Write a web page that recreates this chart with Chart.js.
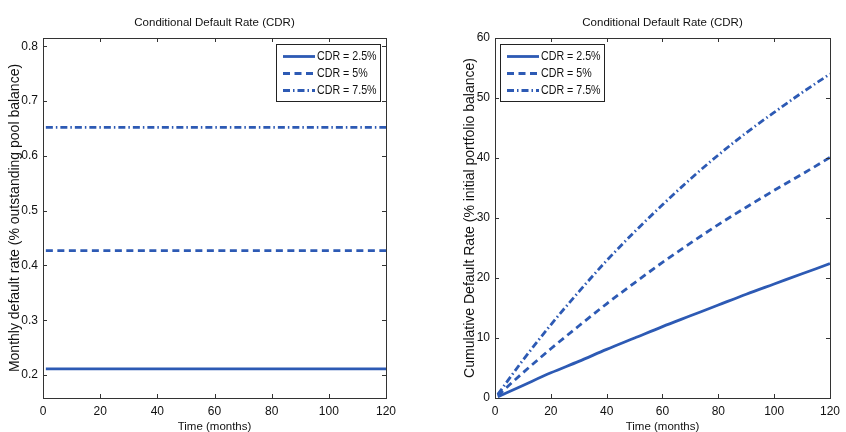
<!DOCTYPE html>
<html>
<head>
<meta charset="utf-8">
<script src="https://cdn.jsdelivr.net/npm/chart.js@4"></script>
<style>
  html, body { margin: 0; padding: 0; background: #fff; overflow: hidden; }
  .panel { position: absolute; top: 0; width: 423px; height: 440px; }
</style>
</head>
<body>
<div class="panel" style="left:0"><canvas id="monthly" width="423" height="440"></canvas></div>
<div class="panel" style="left:423px"><canvas id="cumulative" width="423" height="440"></canvas></div>
<script>
/* global Chart */

// --- data ---
const seriesLabels = ['CDR = 2.5%', 'CDR = 5%', 'CDR = 7.5%']

const flatMonths = [1, 120]
const monthly25 = [0.211, 0.211]
const monthly5 = [0.427, 0.427]
const monthly75 = [0.652, 0.652]

const months = [1, 10, 20, 30, 40, 50, 60, 70, 80, 90, 100, 110, 120]
const cumulative25 = [0.2, 2.1, 4.2, 6.1, 8.1, 10.0, 11.9, 13.7, 15.5, 17.3, 19.0, 20.7, 22.4]
const cumulative5 = [0.4, 4.2, 8.2, 12.0, 15.7, 19.2, 22.6, 25.8, 28.9, 31.8, 34.6, 37.3, 40.1]
const cumulative75 = [0.6, 6.3, 12.2, 17.7, 22.9, 27.7, 32.2, 36.5, 40.5, 44.2, 47.6, 50.9, 54.0]

const xTicks = [0, 20, 40, 60, 80, 100, 120]
const monthlyTicks = [0.2, 0.3, 0.4, 0.5, 0.6, 0.7, 0.8]
const cumulativeTicks = [0, 10, 20, 30, 40, 50, 60]

const BLUE = '#2d5ab4'
const FONT = "'Liberation Sans', Arial, sans-serif"
const dashes = [[], [7, 4.5], [7, 3, 1.5, 3]]

Chart.defaults.font.family = FONT
Chart.defaults.color = '#111'

const toPoints = (xs, ys) => xs.map((x, i) => ({ x: x, y: ys[i] }))

// MATLAB style box, inward ticks and a legend inside the axes
const matlabFrame = {
  id: 'matlabFrame',
  afterDraw (chart, args, opts) {
    const ctx = chart.ctx
    const a = chart.chartArea
    const xs = chart.scales.x
    const ys = chart.scales.y
    ctx.save()
    ctx.strokeStyle = '#333'
    ctx.lineWidth = 1
    ctx.strokeRect(Math.round(a.left) + 0.5, Math.round(a.top) + 0.5,
      Math.round(a.right - a.left), Math.round(a.bottom - a.top))
    ctx.beginPath()
    xs.ticks.forEach(t => {
      const px = Math.round(xs.getPixelForValue(t.value)) + 0.5
      ctx.moveTo(px, a.bottom); ctx.lineTo(px, a.bottom - 4)
      ctx.moveTo(px, a.top); ctx.lineTo(px, a.top + 4)
    })
    ys.ticks.forEach(t => {
      const py = Math.round(ys.getPixelForValue(t.value)) + 0.5
      ctx.moveTo(a.left, py); ctx.lineTo(a.left + 4, py)
      ctx.moveTo(a.right, py); ctx.lineTo(a.right - 4, py)
    })
    ctx.stroke()

    // legend box
    const w = 104
    const h = 57
    const bx = opts.side === 'right' ? Math.round(a.right) - 6 - w : Math.round(a.left) + 5
    const by = Math.round(a.top) + 6
    ctx.fillStyle = '#fff'
    ctx.fillRect(bx, by, w, h)
    ctx.strokeStyle = '#222'
    ctx.strokeRect(bx + 0.5, by + 0.5, w, h)
    chart.data.datasets.forEach((ds, i) => {
      const y = by + 12.5 + i * 17
      ctx.strokeStyle = ds.borderColor
      ctx.lineWidth = ds.borderWidth
      ctx.setLineDash(ds.borderDash || [])
      ctx.beginPath()
      ctx.moveTo(bx + 7, y); ctx.lineTo(bx + 39, y)
      ctx.stroke()
      ctx.setLineDash([])
      // condensed text, like the narrow Helvetica of the original
      ctx.save()
      ctx.translate(bx + 41, y)
      ctx.scale(0.82, 1)
      ctx.font = '13px ' + FONT
      ctx.textBaseline = 'middle'
      ctx.textAlign = 'left'
      ctx.fillStyle = '#111'
      ctx.fillText(ds.label, 0, 0)
      ctx.restore()
    })
    ctx.restore()
  }
}

function makeDatasets (xs, series) {
  return series.map((ys, i) => ({
    label: seriesLabels[i],
    data: toPoints(xs, ys),
    borderColor: BLUE,
    borderWidth: 2.8,
    borderDash: dashes[i],
    pointRadius: 0,
    cubicInterpolationMode: 'monotone',
    fill: false
  }))
}

function makeChart (id, datasets, yOpts, yTitle, yWidth, padRight, legendSide) {
  return new Chart(document.getElementById(id), {
    type: 'line',
    data: { datasets: datasets },
    plugins: [matlabFrame],
    options: {
      responsive: false,
      animation: false,
      layout: { padding: { left: 0, right: padRight, top: 0, bottom: 0 } },
      plugins: {
        legend: { display: false },
        tooltip: { enabled: false },
        title: {
          display: true,
          text: 'Conditional Default Rate (CDR)',
          fullSize: false,
          color: '#111',
          font: { size: 11.5, weight: 'normal' },
          padding: { top: 16, bottom: 8.2 }
        },
        matlabFrame: { side: legendSide }
      },
      scales: {
        x: {
          type: 'linear',
          min: 0,
          max: 120,
          afterBuildTicks: s => { s.ticks = xTicks.map(v => ({ value: v })) },
          afterFit: s => { s.height = 42 },
          grid: { display: false, drawTicks: false },
          border: { display: false },
          ticks: { padding: 6, font: { size: 12 }, color: '#111', maxRotation: 0 },
          title: {
            display: true,
            text: 'Time (months)',
            color: '#111',
            font: { size: 11.5 },
            padding: { top: 0, bottom: 6 }
          }
        },
        y: {
          type: 'linear',
          min: yOpts.min,
          max: yOpts.max,
          afterBuildTicks: s => { s.ticks = yOpts.ticks.map(v => ({ value: v })) },
          afterFit: s => { s.width = yWidth },
          grid: { display: false, drawTicks: false },
          border: { display: false },
          ticks: {
            padding: 5,
            font: { size: 12 },
            color: '#111',
            callback: v => String(v)
          },
          title: {
            display: true,
            text: yTitle,
            color: '#111',
            font: { size: 14 },
            padding: { top: yOpts.titlePad, bottom: 0 }
          }
        }
      }
    }
  })
}

makeChart('monthly',
  makeDatasets(flatMonths, [monthly25, monthly5, monthly75]),
  { min: 0.158, max: 0.815, ticks: monthlyTicks, titlePad: 6.6 },
  'Monthly default rate (% outstanding pool balance)',
  43, 37, 'right')

makeChart('cumulative',
  makeDatasets(months, [cumulative25, cumulative5, cumulative75]),
  { min: 0, max: 60, ticks: cumulativeTicks, titlePad: 38.6 },
  'Cumulative Default Rate (% initial portfolio balance)',
  72, 8, 'left')
</script>
</body>
</html>
